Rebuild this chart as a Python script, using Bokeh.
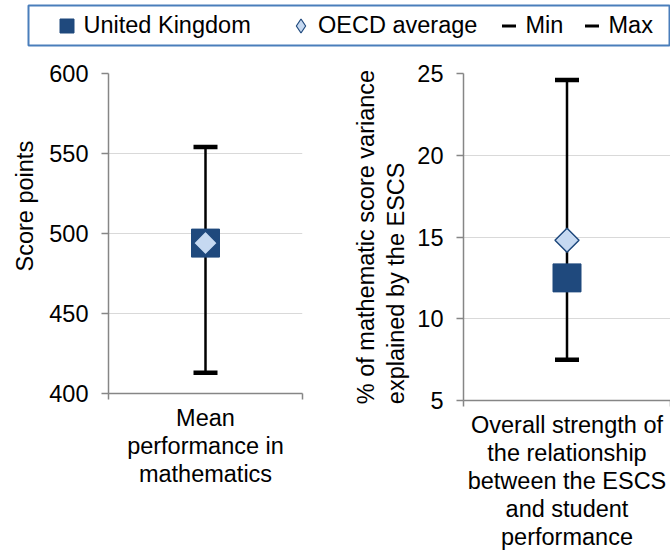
import numpy as np
from bokeh.plotting import figure
from bokeh.models import (ColumnDataSource, Range1d, FixedTicker, Title,
                          Legend, LegendItem)
from bokeh.layouts import column, row
from bokeh.core.properties import value
from bokeh.embed import file_html
from bokeh.resources import INLINE

# ---------------- data ----------------
categories = [
    "Mean\nperformance in\nmathematics",
    "Overall strength of\nthe relationship\nbetween the ESCS\nand student\nperformance",
]
uk_values = [494, 12.5]
oecd_values = [494, 14.8]
min_values = [413, 7.5]
max_values = [554, 24.6]
y_lows = [400, 5]
y_highs = [600, 25]
y_ticks = [[400, 450, 500, 550, 600], [5, 10, 15, 20, 25]]
y_titles = ["Score points", "% of mathematic score variance\nexplained by the ESCS"]
legend_labels = ["United Kingdom", "OECD average", "Min", "Max"]

# ---------------- style ----------------
UK_COLOR = "#1F497D"
OECD_FILL = "#C6D9F1"
AXIS_COLOR = "#868686"
GRID_COLOR = "#D9D9D9"
BOX_COLOR = "#4A7EBB"
FONT = "Liberation Sans"
FS = "23.5px"

LEGEND_H = 60
PANEL_H = 491
TOP = 13
panel_specs = [
    dict(left=108, right=36, frame_w=194, frame_h=320,
         t_align="left", t_off=122, t_stand=17),
    dict(left=125, right=0, frame_w=207, frame_h=327,
         t_align="center", t_off=0, t_stand=11),
]

panels = []
for i, spec in enumerate(panel_specs):
    # each panel shows one category, at index position 0 of its own x scale
    src = ColumnDataSource(dict(
        x=[0], uk=[uk_values[i]], oecd=[oecd_values[i]],
        lo=[min_values[i]], hi=[max_values[i]]))
    p = figure(x_range=Range1d(-0.5, 0.5),
               y_range=Range1d(y_lows[i], y_highs[i]),
               frame_width=spec["frame_w"], frame_height=spec["frame_h"],
               min_border_left=spec["left"], min_border_right=spec["right"],
               min_border_top=TOP,
               min_border_bottom=PANEL_H - TOP - spec["frame_h"],
               toolbar_location=None, output_backend="svg",
               outline_line_color=None)
    p.segment(x0="x", y0="lo", x1="x", y1="hi", source=src,
              line_color="black", line_width=2.5)
    p.scatter(x="x", y="lo", source=src, marker="dash", size=24,
              line_color="black", line_width=4.5)
    p.scatter(x="x", y="hi", source=src, marker="dash", size=24,
              line_color="black", line_width=4.5)
    p.scatter(x="x", y="uk", source=src, marker="square", size=28,
              fill_color=UK_COLOR, line_color=UK_COLOR, line_width=1)
    p.scatter(x="x", y="oecd", source=src, marker="square", angle=np.pi / 4,
              size=17, fill_color=OECD_FILL, line_color=UK_COLOR, line_width=1.5)

    # y axis
    p.yaxis.ticker = FixedTicker(ticks=y_ticks[i])
    p.yaxis.axis_line_color = AXIS_COLOR
    p.yaxis.axis_line_width = 1.5
    p.yaxis.major_tick_line_color = AXIS_COLOR
    p.yaxis.major_tick_line_width = 1.5
    p.yaxis.major_tick_out = 7
    p.yaxis.major_tick_in = 0
    p.yaxis.minor_tick_line_color = None
    p.yaxis.major_label_standoff = 13
    p.yaxis.major_label_text_font = FONT
    p.yaxis.major_label_text_font_size = FS
    p.yaxis.major_label_text_color = "black"

    # x axis: one category label, separator ticks at the category edges
    p.xaxis.ticker = FixedTicker(ticks=[0], minor_ticks=[-0.5, 0.5])
    p.xaxis.major_label_overrides = {0: categories[i]}
    p.xaxis.axis_line_color = AXIS_COLOR
    p.xaxis.axis_line_width = 1.5
    p.xaxis.major_tick_line_color = None
    p.xaxis.major_tick_out = 0
    p.xaxis.major_tick_in = 0
    p.xaxis.minor_tick_line_color = AXIS_COLOR
    p.xaxis.minor_tick_line_width = 1.5
    p.xaxis.minor_tick_out = 6
    p.xaxis.minor_tick_in = 0
    p.xaxis.major_label_standoff = 5
    p.xaxis.major_label_text_font = FONT
    p.xaxis.major_label_text_font_size = FS
    p.xaxis.major_label_text_color = "black"
    p.xaxis.major_label_text_line_height = 1.08

    p.xgrid.visible = False
    p.ygrid.grid_line_color = GRID_COLOR
    p.ygrid.grid_line_width = 1.2

    p.add_layout(Title(text=y_titles[i], align=spec["t_align"],
                       offset=spec["t_off"], standoff=spec["t_stand"],
                       text_font=FONT, text_font_size=FS,
                       text_font_style="normal", text_color="black",
                       text_line_height=1.15), "left")
    panels.append(p)

# ---------------- legend strip ----------------
lf = figure(width=670, height=LEGEND_H, x_range=Range1d(0, 1), y_range=Range1d(0, 1),
            x_axis_type=None, y_axis_type=None,
            toolbar_location=None, output_backend="svg",
            min_border_left=28, min_border_right=0, min_border_top=5,
            min_border_bottom=LEGEND_H - 5 - 40, outline_line_color=BOX_COLOR,
            outline_line_width=2)
lf.grid.visible = False
proxy = ColumnDataSource(dict(x=[np.nan], y=[np.nan]))
r_uk = lf.scatter(x="x", y="y", source=proxy, marker="square",
                  fill_color=UK_COLOR, line_color=UK_COLOR)
r_oecd = lf.scatter(x="x", y="y", source=proxy, marker="diamond",
                    fill_color=OECD_FILL, line_color=UK_COLOR, line_width=1.2)
r_min = lf.scatter(x="x", y="y", source=proxy, marker="dash",
                   line_color="black", line_width=3)
r_max = lf.scatter(x="x", y="y", source=proxy, marker="dash",
                   line_color="black", line_width=3)

legend_x = [20.5, 255, 462.5, 545.5]
for lab, rend, lx in zip(legend_labels, [r_uk, r_oecd, r_min, r_max], legend_x):
    lg = Legend(items=[LegendItem(label=value(lab), renderers=[rend])],
                location=(lx, 2.5), orientation="horizontal",
                glyph_width=35, glyph_height=35, label_standoff=0,
                padding=0, margin=0, spacing=0,
                border_line_color=None, background_fill_alpha=0,
                label_text_font=FONT, label_text_font_size=FS,
                label_text_color="black", label_text_baseline="middle")
    lf.add_layout(lg)

layout = column(lf, row(*panels))
open("out.html", "w").write(file_html(layout, INLINE))
